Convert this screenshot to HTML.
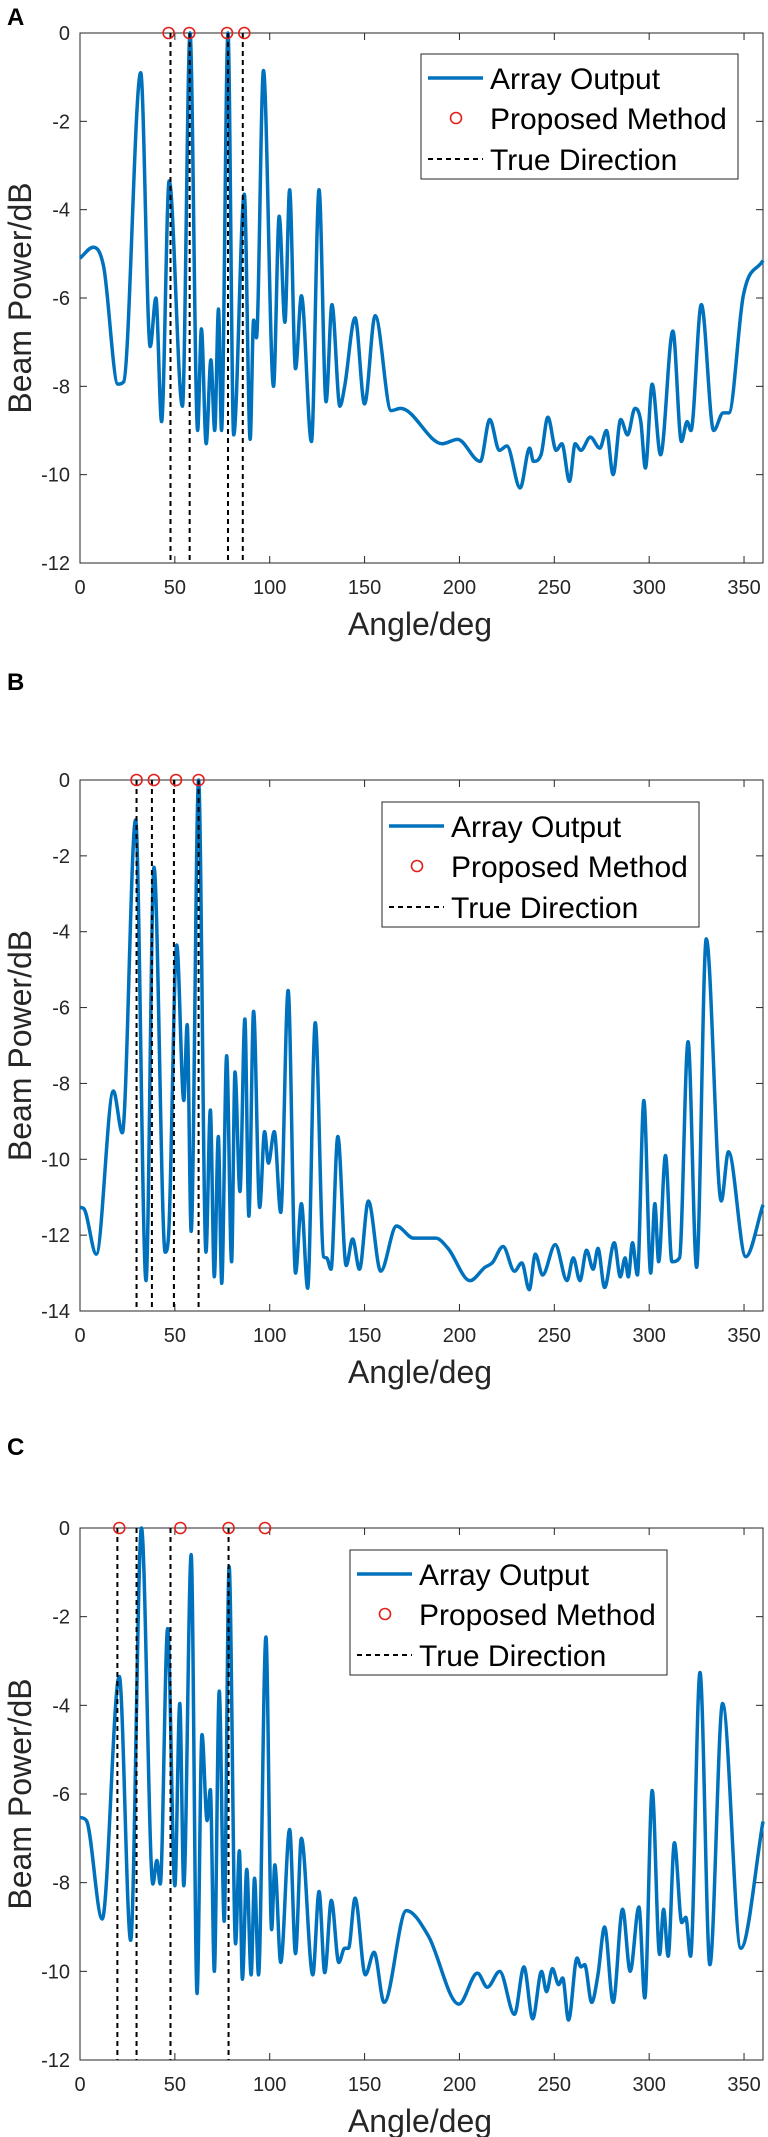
<!DOCTYPE html>
<html><head><meta charset="utf-8">
<style>
html,body{margin:0;padding:0;background:#fff;}
svg{display:block;font-family:"Liberation Sans",Arial,sans-serif;}
</style></head>
<body>
<svg id="fig" width="768" height="2137" viewBox="0 0 768 2137" xmlns="http://www.w3.org/2000/svg"></svg>
<script>
// Panel A data
const anglesA=[0,7,12.5,20,23,32,37,40,43,47,54,58,62,64,66.5,69,71,73,74.6,78,81,86.6,89.7,91.5,93,96.7,102,105,108,110.5,113.6,116.7,122,126,129.7,132.8,137,139.5,145,150,155.6,164,169,191,199,211,216,221,225,232,237,239,243,246.6,251,254,258,261,264,269,274,277.5,281,285,288.6,292.5,295.6,298,301.6,306,312.5,317,320,322,327.5,334,339,342,349.6,360];
const powerA=[-5.1,-4.85,-5.3,-7.95,-7.9,-0.9,-7.1,-6.0,-8.8,-3.35,-8.45,0,-9.0,-6.7,-9.3,-7.4,-9.0,-6.25,-9.0,0,-9.1,-3.65,-9.2,-6.5,-6.9,-0.85,-8.0,-4.15,-6.55,-3.55,-7.6,-5.95,-9.25,-3.55,-8.35,-6.15,-8.45,-8.0,-6.45,-8.4,-6.4,-8.55,-8.5,-9.3,-9.2,-9.7,-8.75,-9.45,-9.35,-10.3,-9.4,-9.7,-9.55,-8.7,-9.45,-9.3,-10.15,-9.3,-9.45,-9.15,-9.4,-9.0,-10.0,-8.75,-9.1,-8.5,-8.8,-9.85,-7.95,-9.55,-6.75,-9.25,-8.8,-9.0,-6.15,-9.0,-8.6,-8.6,-5.95,-5.15];
const trueDirA=[47.7,57.8,78,85.8];
const estA=[46.7,57.6,77.5,86.6];
const yTicksA=[0,-2,-4,-6,-8,-10,-12];
// Panel B data
const anglesB=[0,2,8.6,17.6,22.3,29.3,34.8,39,44.9,46.7,51,54.7,56.5,58.6,62.5,66.4,68.7,70.8,72.9,74.7,77.3,79.9,81.7,84.3,86.9,89,91.5,94.7,97.3,99.3,102.4,105.8,109.7,113.6,116.7,120,124,128.4,130,132.3,135.9,140.3,143.7,147.3,152,158.5,166.8,175.8,187.5,194,205.6,213.4,217.3,223,229,232.9,236.8,240,243.8,250.5,256.7,260,263.5,267,270.5,273,276.5,281.6,284.8,287.3,289,291.2,293.8,297.2,300.8,303,305,308.6,312,316,320.5,325,330.1,338,341.8,350.9,360];
const powerB=[-11.27,-11.3,-12.5,-8.2,-9.3,-1.05,-13.2,-2.3,-12.45,-12.0,-4.35,-8.45,-6.45,-11.9,0,-12.45,-8.7,-13.1,-9.4,-13.27,-7.27,-12.7,-7.7,-10.85,-6.3,-11.5,-6.1,-11.27,-9.27,-10.1,-9.27,-11.4,-5.55,-13.0,-11.17,-13.4,-6.4,-12.57,-12.6,-12.9,-9.4,-12.8,-12.1,-12.9,-11.1,-12.95,-11.76,-12.08,-12.08,-12.35,-13.2,-12.85,-12.73,-12.3,-12.95,-12.73,-13.44,-12.5,-13.05,-12.25,-13.2,-12.6,-13.2,-12.4,-12.9,-12.35,-13.38,-12.2,-13.1,-12.6,-13.1,-12.2,-13.05,-8.45,-13.0,-11.17,-12.7,-9.9,-12.7,-12.6,-6.9,-12.85,-4.19,-11.1,-9.8,-12.57,-11.2];
const trueDirB=[29.8,37.9,49.5,62.5];
const estB=[29.8,38.9,50.6,62.5];
const yTicksB=[0,-2,-4,-6,-8,-10,-12,-14];
// Panel C data
const anglesC=[0,3.4,11.7,20.7,26.7,32.4,38.4,40.5,42.3,46.2,50,52.6,54.7,58.6,61.7,64.3,67,68.7,70.8,73.4,76,78.6,82,84,85.6,87.9,90.2,92,94.1,98,101,102.7,105.8,110.5,113.6,116.7,122.7,126,129,132.5,136.4,139.5,141.5,145,150.4,155,160.3,172,183.6,199.7,209.5,214.7,221.2,229,234,238.6,243.3,245.9,249,252.3,254.4,257.5,262,264,266,269.7,273,276.5,281,286,290,294.6,297.7,301.6,305.5,307.6,310,313.3,317.2,319.3,321.8,326.8,332,338.7,348.3,360];
const powerC=[-6.53,-6.6,-8.82,-3.35,-9.3,0,-8.03,-7.5,-8.03,-2.27,-8.07,-3.96,-8.07,-0.6,-10.5,-4.66,-6.6,-5.9,-10.0,-3.68,-8.87,-0.87,-9.38,-7.28,-10.18,-7.7,-10.08,-7.9,-10.08,-2.46,-9.06,-7.6,-9.8,-6.8,-9.6,-7.0,-10.08,-8.2,-10.03,-8.4,-9.8,-9.48,-9.48,-8.35,-10.08,-9.57,-10.7,-8.63,-9.2,-10.74,-10.04,-10.36,-10.0,-10.97,-9.9,-11.07,-10.0,-10.46,-9.94,-10.3,-10.15,-11.1,-9.7,-9.9,-9.85,-10.7,-10.08,-9.0,-10.7,-8.6,-10.0,-8.55,-10.6,-5.92,-9.62,-8.6,-9.66,-7.1,-8.9,-8.78,-9.66,-3.26,-9.85,-3.96,-9.48,-6.62];
const trueDirC=[19.7,29.8,47.7,78.3];
const estC=[20.7,52.9,78.3,97.5];
const yTicksC=[0,-2,-4,-6,-8,-10,-12];
const xTicks=[0,50,100,150,200,250,300,350];

const NS='http://www.w3.org/2000/svg';
const svg=document.getElementById('fig');
function el(tag,attrs,parent){const e=document.createElementNS(NS,tag);for(const k in attrs)e.setAttribute(k,attrs[k]);(parent||svg).appendChild(e);return e;}

function monoPath(px,py){
  const n=px.length;if(n<2)return '';
  const d=[],m=[];
  for(let i=0;i<n-1;i++)d.push((py[i+1]-py[i])/(px[i+1]-px[i]));
  m[0]=d[0];m[n-1]=d[n-2];
  for(let i=1;i<n-1;i++){m[i]=(d[i-1]*d[i]<=0)?0:(d[i-1]+d[i])/2;}
  for(let i=0;i<n-1;i++){
    if(d[i]===0){m[i]=0;m[i+1]=0;continue;}
    const a=m[i]/d[i],b=m[i+1]/d[i],s=a*a+b*b;
    if(s>9){const t=3/Math.sqrt(s);m[i]=t*a*d[i];m[i+1]=t*b*d[i];}
  }
  let p='M'+px[0].toFixed(2)+','+py[0].toFixed(2);
  for(let i=0;i<n-1;i++){
    const h=(px[i+1]-px[i])/3;
    p+=' C'+(px[i]+h).toFixed(2)+','+(py[i]+m[i]*h).toFixed(2)+' '+(px[i+1]-h).toFixed(2)+','+(py[i+1]-m[i+1]*h).toFixed(2)+' '+px[i+1].toFixed(2)+','+py[i+1].toFixed(2);
  }
  return p;
}

function drawPanel(cfg){
  const g=el('g',{});
  
  
  const L=80,R=763,T=cfg.top,B=cfg.bottom;
  const ymin=cfg.yTicks[cfg.yTicks.length-1];
  const xs=v=>L+(v/360)*(R-L);
  const ys=v=>T+(v/ymin)*(B-T);
  const lab=el('text',{x:7,y:cfg.labelY,'font-size':24,'font-weight':'bold',fill:'#000'},g);
  lab.textContent=cfg.id.toUpperCase();
  
  
  // axes box
  const box=el('rect',{x:L,y:T,width:R-L,height:B-T,fill:'#fff',stroke:'#262626','stroke-width':1},g);
  
  
  // ticks
  xTicks.forEach(v=>{
    const x=xs(v);
    el('line',{x1:x,y1:B,x2:x,y2:B-7,stroke:'#262626','stroke-width':1},g);
    el('line',{x1:x,y1:T,x2:x,y2:T+7,stroke:'#262626','stroke-width':1},g);
    const t=el('text',{x:x,y:B+31,'font-size':20,fill:'#262626','text-anchor':'middle'},g);
    t.textContent=v;
    
    
  });
  cfg.yTicks.forEach(v=>{
    const y=ys(v);
    el('line',{x1:L,y1:y,x2:L+7,y2:y,stroke:'#262626','stroke-width':1},g);
    el('line',{x1:R,y1:y,x2:R-7,y2:y,stroke:'#262626','stroke-width':1},g);
    const t=el('text',{x:70,y:y+7,'font-size':20,fill:'#262626','text-anchor':'end'},g);
    t.textContent=v===0?'0':v;
    
    
  });
  const xl=el('text',{x:420,y:B+72,'font-size':32,fill:'#262626','text-anchor':'middle'},g);
  xl.textContent='Angle/deg';
  
  
  const cy=(T+B)/2;
  const yl=el('text',{x:0,y:0,'font-size':32,fill:'#262626','text-anchor':'middle',transform:'translate(31,'+cy+') rotate(-90)'},g);
  yl.textContent='Beam Power/dB';
  
  
  // series
  const px=cfg.angles.map(xs),py=cfg.power.map(ys);
  const path=el('path',{d:monoPath(px,py),fill:'none',stroke:'#0072BD','stroke-width':3.5,'stroke-linejoin':'round'},g);
  
  
  cfg.trueDir.forEach(v=>{
    const l=el('line',{x1:xs(v),y1:T,x2:xs(v),y2:B,stroke:'#000','stroke-width':2,'stroke-dasharray':'5,4'},g);
    
    
  });
  cfg.est.forEach(v=>{
    const c=el('circle',{cx:xs(v),cy:ys(0),r:5.5,fill:'none',stroke:'#E3201B','stroke-width':1.6},g);
    
    
  });
  // legend
  const lx=cfg.legX,ly=cfg.legY;
  const lg=el('g',{},g);
  
  
  el('rect',{x:lx,y:ly,width:317,height:125,fill:'#fff',stroke:'#262626','stroke-width':1},lg);
  el('line',{x1:lx+7,y1:ly+24,x2:lx+62,y2:ly+24,stroke:'#0072BD','stroke-width':3.5},lg);
  el('circle',{cx:lx+35,cy:ly+64,r:5.5,fill:'none',stroke:'#E3201B','stroke-width':1.6},lg);
  el('line',{x1:lx+7,y1:ly+105,x2:lx+62,y2:ly+105,stroke:'#000','stroke-width':2,'stroke-dasharray':'5,4'},lg);
  const names=['Array Output','Proposed Method','True Direction'];
  const offs=[24,64,105];
  names.forEach((n,i)=>{
    const t=el('text',{x:lx+69,y:ly+offs[i]+11,'font-size':30,fill:'#000'},lg);
    t.textContent=n;
    
    
  });
}

drawPanel({id:'a',top:33,bottom:563,labelY:25,angles:anglesA,power:powerA,trueDir:trueDirA,est:estA,yTicks:yTicksA,legX:421,legY:54});
drawPanel({id:'b',top:780,bottom:1311,labelY:690,angles:anglesB,power:powerB,trueDir:trueDirB,est:estB,yTicks:yTicksB,legX:382,legY:802});
drawPanel({id:'c',top:1528,bottom:2060,labelY:1455,angles:anglesC,power:powerC,trueDir:trueDirC,est:estC,yTicks:yTicksC,legX:350,legY:1550});
</script>
</body></html>
